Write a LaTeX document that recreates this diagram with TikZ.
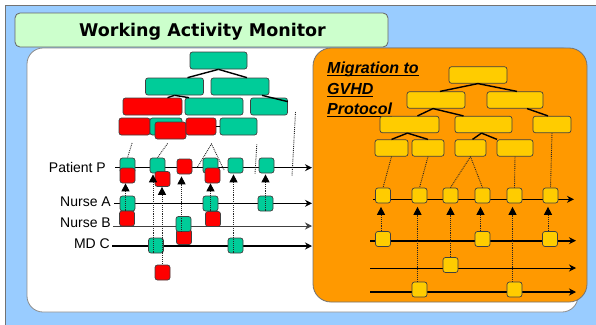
\documentclass[tikz,border=0pt]{standalone}
\usepackage{fontspec}
\setmainfont{Liberation Sans}
\newfontfamily\headfont{DejaVu Sans}
\usetikzlibrary{arrows.meta,calc}

\definecolor{skyblue}{HTML}{99CCFF}
\definecolor{palegreen}{HTML}{CCFFCC}
\definecolor{actgreen}{HTML}{00CC99}
\definecolor{actred}{HTML}{FF0000}
\definecolor{gold}{HTML}{FFCC00}
\definecolor{migorange}{HTML}{FF9900}

% underline drawn just below the baseline
\newcommand\ulword[1]{\setbox0=\hbox{#1}\rlap{\rule[-2.8pt]{\wd0}{1.3pt}}\box0}

\tikzset{
  box/.style={draw=black!75, line width=0.7pt, rounded corners=2.5pt, inner sep=0pt, minimum height=17pt},
  gbox/.style={box, fill=actgreen},
  rbox/.style={box, fill=actred},
  ybox/.style={box, fill=gold, minimum height=16.5pt},
  sqg/.style={gbox, minimum width=15pt, minimum height=15pt},
  sqr/.style={rbox, minimum width=15pt, minimum height=15pt},
  sqy/.style={box, fill=gold, minimum width=15pt, minimum height=15pt},
  link/.style={line width=1.4pt, black},
  tline/.style={black, line width=1.2pt, -{Stealth[length=7pt,width=7pt]}},
  dots/.style={densely dotted, line width=0.9pt, black!85},
  dep/.style={dots, -{Triangle[length=8pt,width=8pt,black]}},
  lbl/.style={font=\fontsize{14}{16}\selectfont, inner sep=0pt, anchor=base east},
  migtext/.style={font=\bfseries\itshape\fontsize{16}{19}\selectfont, inner sep=0pt, anchor=base west},
}

\begin{document}
\begin{tikzpicture}[x=1pt,y=-1pt]
\useasboundingbox (0,0) rectangle (596,324);

% frame and panels
\fill[white] (0,0) rectangle (596,324);
\filldraw[fill=skyblue, draw=black!55, line width=0.8pt] (5.5,5.5) rectangle (600,330);
\filldraw[fill=white, draw=black!45, line width=0.8pt, rounded corners=16pt] (27,48) rectangle (578,312);
\filldraw[fill=migorange, draw=black!55, line width=0.8pt, rounded corners=18pt] (313,48) rectangle (587,302);
\node[draw=black!60, fill=palegreen, line width=0.8pt, rounded corners=5pt,
      minimum width=373pt, minimum height=34pt, inner sep=0pt] (titlebar) at (201.5,30) {};
\node[anchor=base, inner sep=0pt, font=\headfont\bfseries\fontsize{17.5}{20}\selectfont]
      (titletext) at (202.5,36.7) {Working Activity Monitor};

% ---------- current activity tree ----------
\node[gbox, minimum width=57pt] (T0)  at (218.5,60.5) {};
\node[gbox, minimum width=58pt] (T1a) at (174.5,86.5) {};
\node[gbox, minimum width=58pt] (T1b) at (240,86.5) {};
\node[rbox, minimum width=59pt] (T2a) at (152.5,106.5) {};
\node[gbox, minimum width=58pt] (T2b) at (214,106.5) {};
\node[gbox, minimum width=37pt] (T2c) at (269,106.5) {};
\node[rbox, minimum width=31pt] (T3a) at (134.5,126.5) {};
\node[gbox, minimum width=32pt] (T3b) at (166,126.5) {};
\node[rbox, minimum width=31pt] (T3c) at (170.5,130.5) {};
\node[rbox, minimum width=30pt] (T3d) at (201,126.5) {};
\node[gbox, minimum width=37pt] (T3e) at (238.5,126.5) {};
\draw[link] (T0.south) -- ([xshift=13pt]T1a.north);
\draw[link] (T0.south) -- ([xshift=7pt]T1b.north);
\draw[link] (T1a.south) -- ([xshift=15pt]T2a.north);
\draw[link] (T1a.south) -- ([xshift=-25pt]T2b.north);
\draw[link] ([xshift=22pt]T1b.south) -- ([yshift=-4pt]T2c.north east);
\draw[link] (T3d.east) -- (T3e.west);

% ---------- timelines ----------
\coordinate (pS) at (115,167.7);  \coordinate (pE) at (312,167.7);
\coordinate (naS) at (114,203.3); \coordinate (naE) at (312,203.3);
\coordinate (nbS) at (113,226);   \coordinate (nbE) at (312,226);
\coordinate (mcS) at (112,246);   \coordinate (mcE) at (312,246);
\draw[tline] (pS) -- (pE);
\draw[tline, line width=1pt] (naS) -- (naE);
\draw[tline, line width=1pt, black!75] (nbS) -- (nbE);
\draw[tline, line width=1.7pt] (mcS) -- (mcE);

\node[lbl] (lp)  at (106,172.7) {Patient P};
\node[lbl] (lna) at (111,206.7) {Nurse A};
\node[lbl] (lnb) at (111,227)   {Nurse B};
\node[lbl] (lmc) at (110,248.7) {MD C};

% activity steps
\node[sqg] (P1) at (127.5,165.5) {};
\node[sqg] (P2) at (157.5,165.5) {};
\node[sqg] (P4) at (210.5,165.5) {};
\node[sqg] (P5) at (235.5,165.5) {};
\node[sqg] (P6) at (266.5,165.5) {};
\node[sqg] (NA1) at (127.5,203.5) {};
\node[sqg] (NA2) at (210.5,203.5) {};
\node[sqg] (NA3) at (265.5,203.5) {};
\node[sqg] (MC1) at (156,245.5) {};
\node[sqg] (MC2) at (235.5,245.5) {};
\node[sqr] (PR1) at (127.5,175.5) {};
\node[sqr] (PR2) at (162.5,179) {};
\node[sqr] (P3)  at (184.5,166.5) {};
\node[sqr] (PR4) at (212.5,175.5) {};
\node[sqr] (NAR1) at (127,218.5) {};
\node[sqr] (NAR2) at (213,219) {};
\node[sqr] (NBR) at (184,237) {};
\node[sqg] (NB1) at (183.5,224) {};
\node[sqr] (MCR) at (162.5,272.5) {};

% tree leaves to steps
\draw[dots, shorten <=8pt] (T3a.south) -- (P1.north);
\draw[dots, shorten <=5pt] (T3c.south) -- (P2.north);
\coordinate (d3top) at (211.5,144);
\coordinate (d3l) at (197.5,167);
\coordinate (d3r) at (224,170);
\draw[dots] (d3l) -- (d3top) -- (d3r);
\coordinate (d4bot) at (255,174);
\draw[dots, shorten <=9pt] (T3e.south east) -- (d4bot);
\coordinate (d5top) at (295.5,112);
\coordinate (d5bot) at (292,176);
\draw[dots] (d5top) -- (d5bot);

% dependencies between actors
\coordinate (a1) at ([xshift=-2pt]NA1.south);
\draw[dep] (a1) -- (a1 |- PR1.south);
\coordinate (a2) at ([xshift=-3pt]MC1.south);
\draw[dep, shorten >=1pt] (a2) -- (a2 |- P2.south);
\coordinate (a3) at ([xshift=6pt]MC1.south);
\draw[dep] (a3) -- (a3 |- PR2.south);
\draw[dots] (a3) -- (a3 |- MCR.north);
\coordinate (a4) at ([xshift=-2pt]NB1.south);
\draw[dep, shorten >=2pt] (a4) -- (a4 |- P3.south);
\coordinate (a5) at (NA2.south);
\draw[dep] (a5) -- (a5 |- PR4.south);
\coordinate (a6) at ([xshift=-2pt]MC2.south);
\draw[dep, shorten >=1pt] (a6) -- (a6 |- P5.south);
\coordinate (a7) at (NA3.south);
\draw[dep, shorten >=1pt] (a7) -- (a7 |- P6.south);

% ---------- migration protocol ----------
\node[migtext] (mig1) at (327,73)  {\ulword{Migration to}};
\node[migtext] (mig2) at (327,94)  {\ulword{GVHD}};
\node[migtext] (mig3) at (327,114) {\ulword{Protocol}};

\node[ybox, minimum width=58pt] (L0)  at (478,75) {};
\node[ybox, minimum width=58pt] (L1a) at (436,100) {};
\node[ybox, minimum width=56pt] (L1b) at (515,100) {};
\node[ybox, minimum width=59pt] (L2a) at (409.5,124.5) {};
\node[ybox, minimum width=57pt] (L2b) at (483.5,124.5) {};
\node[ybox, minimum width=38pt] (L2c) at (552,124.5) {};
\node[ybox, minimum width=33pt] (L3a) at (391.5,148) {};
\node[ybox, minimum width=32pt] (L3b) at (428,148) {};
\node[ybox, minimum width=31pt] (L3c) at (470.5,148) {};
\node[ybox, minimum width=36pt] (L3d) at (515,148) {};
\draw[link] (L0.south) -- ([xshift=4pt]L1a.north);
\draw[link] (L0.south) -- ([xshift=2pt]L1b.north);
\draw[link] ([xshift=-3pt]L1a.south) -- ([xshift=8pt]L2a.north);
\draw[link] ([xshift=-3pt]L1a.south) -- ([xshift=-20pt]L2b.north);
\draw[link] ([xshift=12pt]L1b.south) -- ([xshift=-4pt]L2c.north);
\draw[link] ([xshift=-2pt]L2a.south) -- (L3a.north);
\draw[link] ([xshift=-2pt]L2a.south) -- (L3b.north);
\draw[link] ([xshift=-2pt]L2b.south) -- ([xshift=2pt]L3c.north);
\draw[link] ([xshift=-2pt]L2b.south) -- ([xshift=-18pt]L3d.north);

\coordinate (r1S) at (373,199.3); \coordinate (r1E) at (574,199.3);
\coordinate (r2S) at (370,240.7); \coordinate (r2E) at (576,240.7);
\coordinate (r3S) at (370,268);   \coordinate (r3E) at (576,268);
\coordinate (r4S) at (370,292);   \coordinate (r4E) at (576,292);
\draw[tline] (r1S) -- (r1E);
\draw[tline, line width=1.7pt] (r2S) -- (r2E);
\draw[tline, line width=1pt] (r3S) -- (r3E);
\draw[tline, line width=1.7pt] (r4S) -- (r4E);

\node[sqy] (RA1) at (383,195.5) {};
\node[sqy] (RA2) at (419.5,195.5) {};
\node[sqy] (RA3) at (450.5,195.5) {};
\node[sqy] (RA4) at (482.5,195.5) {};
\node[sqy] (RA5) at (514.5,195.5) {};
\node[sqy] (RA6) at (550.5,195.5) {};
\node[sqy] (RB1) at (383,239) {};
\node[sqy] (RB2) at (482.5,239) {};
\node[sqy] (RB3) at (550,239) {};
\node[sqy] (RC1) at (450.5,265) {};
\node[sqy] (RD1) at (419.5,289.5) {};
\node[sqy] (RD2) at (514.5,289.5) {};

\draw[dots] (L3a.south) -- (RA1.north);
\draw[dots] (L3b.south) -- (RA2.north);
\draw[dots] (L3c.south) -- (RA3.north);
\draw[dots] (L3c.south) -- (RA4.north);
\draw[dots] (L3d.south) -- (RA5.north);
\draw[dots] (L2c.south) -- (RA6.north);

\coordinate (b1) at ([xshift=-2pt]RB1.north);
\draw[dep, shorten >=3.5pt] (b1) -- (b1 |- RA1.south);
\coordinate (b2) at ([xshift=-2pt]RD1.north);
\draw[dep, shorten >=3.5pt] (b2) -- (b2 |- RA2.south);
\coordinate (b3) at (RC1.north);
\draw[dep, shorten >=3.5pt] (b3) -- (b3 |- RA3.south);
\coordinate (b4) at ([xshift=-2pt]RB2.north);
\draw[dep, shorten >=3.5pt] (b4) -- (b4 |- RA4.south);
\coordinate (b5) at ([xshift=-2pt]RD2.north);
\draw[dep, shorten >=3.5pt] (b5) -- (b5 |- RA5.south);
\coordinate (b6) at ([xshift=-2pt]RB3.north);
\draw[dep, shorten >=3.5pt] (b6) -- (b6 |- RA6.south);
\end{tikzpicture}
\end{document}
